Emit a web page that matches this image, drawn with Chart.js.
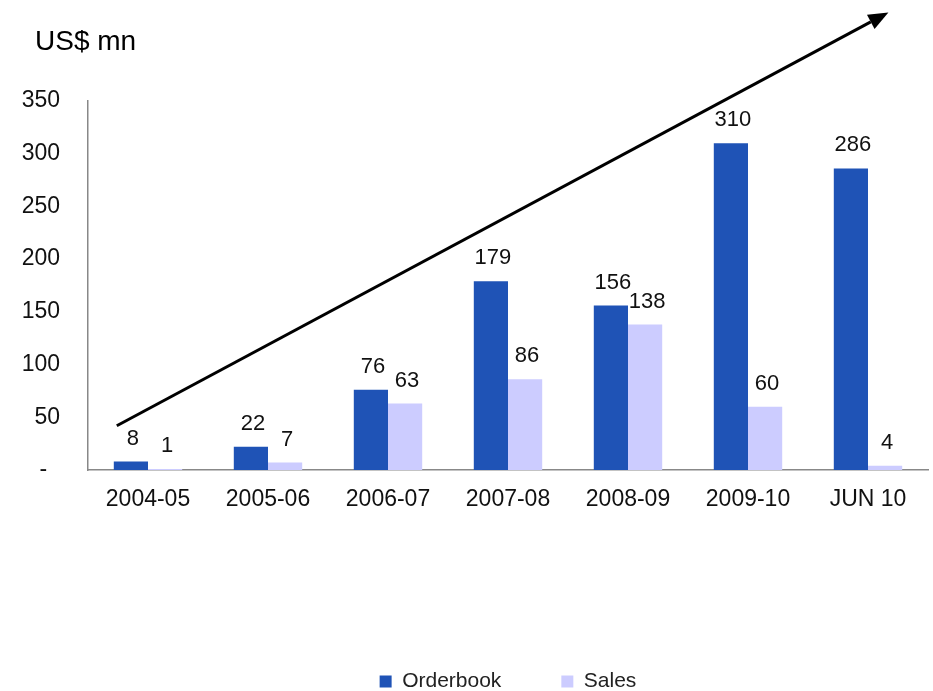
<!doctype html>
<html lang="en">

<head>
  <meta charset="utf-8">
  <title>Orderbook vs Sales</title>
  <style>
    body { margin: 0; background: #fff; }
  </style>
</head>

<body>
  <canvas id="myChart" width="933" height="691"></canvas>

  <script src="https://cdn.jsdelivr.net/npm/chart.js@4.4.2/dist/chart.umd.min.js"></script>

  <script>
    const years = ['2004-05', '2005-06', '2006-07', '2007-08', '2008-09', '2009-10', 'JUN 10'];
    const orderbook = [8, 22, 76, 179, 156, 310, 286];
    const sales = [1, 7, 63, 86, 138, 60, 4];

    const font = "'Liberation Sans', Arial, sans-serif";

    // growth arrow, in category index / value units
    const arrow = { from: [-0.26, 42], to: [6.17, 434] };

    const barLabels = {
      id: 'barLabels',
      afterDatasetsDraw(chart) {
        const c = chart.ctx;
        c.save();
        c.font = '22px ' + font;
        c.fillStyle = '#111';
        c.textAlign = 'center';
        c.textBaseline = 'alphabetic';
        chart.data.datasets.forEach((ds, i) => {
          chart.getDatasetMeta(i).data.forEach((bar, j) => {
            c.fillText(ds.data[j], bar.x + 2, bar.y - 17);
          });
        });
        c.restore();
      }
    };

    const extras = {
      id: 'extras',
      afterDraw(chart) {
        const c = chart.ctx;
        const x = chart.scales.x, y = chart.scales.y;
        const step = x.getPixelForValue(1) - x.getPixelForValue(0);
        const px = (i) => x.getPixelForValue(0) + i * step;

        const x0 = px(arrow.from[0]), y0 = y.getPixelForValue(arrow.from[1]);
        const x1 = px(arrow.to[0]), y1 = y.getPixelForValue(arrow.to[1]);
        const a = Math.atan2(y1 - y0, x1 - x0);
        const len = 20, half = 8;

        c.save();
        c.strokeStyle = '#000';
        c.fillStyle = '#000';
        c.lineWidth = 3;
        c.beginPath();
        c.moveTo(x0, y0);
        c.lineTo(x1 - len * Math.cos(a), y1 - len * Math.sin(a));
        c.stroke();
        c.beginPath();
        c.moveTo(x1, y1);
        c.lineTo(x1 - len * Math.cos(a) + half * Math.sin(a), y1 - len * Math.sin(a) - half * Math.cos(a));
        c.lineTo(x1 - len * Math.cos(a) - half * Math.sin(a), y1 - len * Math.sin(a) + half * Math.cos(a));
        c.closePath();
        c.fill();

        c.font = '28px ' + font;
        c.textAlign = 'left';
        c.textBaseline = 'alphabetic';
        c.fillText('US$ mn', 35, 50);
        c.restore();
      }
    };

    new Chart(document.getElementById('myChart'), {
      type: 'bar',
      data: {
        labels: years,
        datasets: [{
          label: 'Orderbook',
          data: orderbook,
          backgroundColor: '#1F53B6'
        }, {
          label: 'Sales',
          data: sales,
          backgroundColor: '#CCCCFF'
        }]
      },
      options: {
        responsive: false,
        animation: false,
        layout: {
          padding: { top: 101, right: 5, bottom: 0, left: 0 }
        },
        datasets: {
          bar: { categoryPercentage: 0.57, barPercentage: 1 }
        },
        scales: {
          x: {
            grid: { display: false, drawTicks: false, tickLength: 0 },
            border: { display: true, color: '#888', width: 1.5 },
            ticks: { color: '#111', padding: 16, font: { family: font, size: 23 } },
            afterFit(scale) { scale.height = 141; }
          },
          y: {
            min: 0,
            max: 350,
            grid: { display: false, drawTicks: false, tickLength: 0 },
            border: { display: true, color: '#888', width: 1.5 },
            ticks: {
              stepSize: 50,
              color: '#111',
              padding: 28,
              font: { family: font, size: 23 },
              callback: (v) => v === 0 ? '-  ' : v
            },
            afterFit(scale) { scale.width = 88; }
          }
        },
        plugins: {
          tooltip: { enabled: false },
          legend: {
            position: 'bottom',
            fullSize: false,
            maxHeight: 80,
            labels: {
              boxWidth: 12,
              boxHeight: 12,
              padding: 60,
              color: '#222',
              font: { family: font, size: 21 }
            }
          }
        }
      },
      plugins: [barLabels, extras]
    });
  </script>

</body>

</html>
